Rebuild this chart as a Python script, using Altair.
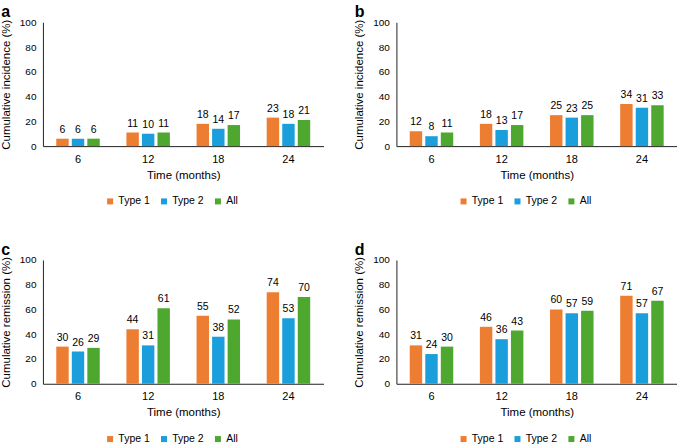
import altair as alt
import pandas as pd

months = ["6", "12", "18", "24"]
groups = ["Type 1", "Type 2", "All"]
colors = ["#ED7D31", "#1B9FDC", "#4EA72E"]

a_type1 = [6, 11, 18, 23]
a_type2 = [6, 10, 14, 18]
a_all = [6, 11, 17, 21]

b_type1 = [12, 18, 25, 34]
b_type2 = [8, 13, 23, 31]
b_all = [11, 17, 25, 33]

c_type1 = [30, 44, 55, 74]
c_type2 = [26, 31, 38, 53]
c_all = [29, 61, 52, 70]

d_type1 = [31, 46, 60, 71]
d_type2 = [24, 36, 57, 57]
d_all = [30, 43, 59, 67]

y_ticks = [0, 20, 40, 60, 80, 100]
FONT = "Liberation Sans"


def panel(letter, ytitle, t1, t2, al):
    rows = []
    for g, vals in zip(groups, [t1, t2, al]):
        for m, v in zip(months, vals):
            rows.append({"Time": m, "Group": g, "Value": v})
    df = pd.DataFrame(rows)
    base = alt.Chart(df).encode(
        x=alt.X(
            "Time:N",
            sort=months,
            title="Time (months)",
            scale=alt.Scale(paddingInner=0.38, paddingOuter=0.19),
            axis=alt.Axis(
                labelAngle=0, ticks=False, domainColor="#222", domainWidth=1,
                labelFontSize=11, titleFontSize=11.5, labelPadding=7,
                titlePadding=5, labelColor="#000", titleColor="#000",
                titleFontWeight="normal", labelFont=FONT, titleFont=FONT,
            ),
        ),
        xOffset=alt.XOffset("Group:N", sort=groups, scale=alt.Scale(paddingInner=0.2)),
        y=alt.Y(
            "Value:Q",
            title=ytitle,
            scale=alt.Scale(domain=[0, 100]),
            axis=alt.Axis(
                values=y_ticks, ticks=False, grid=False, domainColor="#222",
                labelFontSize=10, titleFontSize=11.5, labelPadding=7,
                titlePadding=8, labelColor="#000", titleColor="#000",
                titleFontWeight="normal", labelFont=FONT, titleFont=FONT,
            ),
        ),
    )
    bars = base.mark_bar().encode(
        color=alt.Color(
            "Group:N",
            sort=groups,
            scale=alt.Scale(domain=groups, range=colors),
            legend=alt.Legend(
                title=None, orient="none", legendX=62, legendY=174,
                direction="horizontal", symbolType="square", symbolSize=36,
                symbolStrokeWidth=0, labelFontSize=10.5, labelFont=FONT,
                labelColor="#000", columnPadding=8, labelOffset=3,
            ),
        )
    )
    text = base.mark_text(
        baseline="bottom", dy=-4, fontSize=10.5, font=FONT, color="#000"
    ).encode(text="Value:Q")
    return alt.layer(bars, text).properties(
        width=281,
        height=124,
        title=alt.TitleParams(
            letter, anchor="start", dx=1, fontSize=16, fontWeight="bold",
            font=FONT, color="#000", offset=-3,
        ),
    )


pa = panel("a", "Cumulative incidence (%)", a_type1, a_type2, a_all)
pb = panel("b", "Cumulative incidence (%)", b_type1, b_type2, b_all)
pc = panel("c", "Cumulative remission (%)", c_type1, c_type2, c_all)
pd_ = panel("d", "Cumulative remission (%)", d_type1, d_type2, d_all)

top = alt.hconcat(pa, pb, spacing=30).resolve_scale(color="independent").resolve_legend(color="independent")
bottom = alt.hconcat(pc, pd_, spacing=30).resolve_scale(color="independent").resolve_legend(color="independent")

chart = (
    alt.vconcat(top, bottom, spacing=35)
    .resolve_scale(color="independent")
    .resolve_legend(color="independent")
    .properties(padding={"left": 0, "top": 4, "right": 0, "bottom": 0}, background="white")
    .configure_view(stroke=None)
)

chart.save("out.html", embed_options={"renderer": "svg", "actions": False})
